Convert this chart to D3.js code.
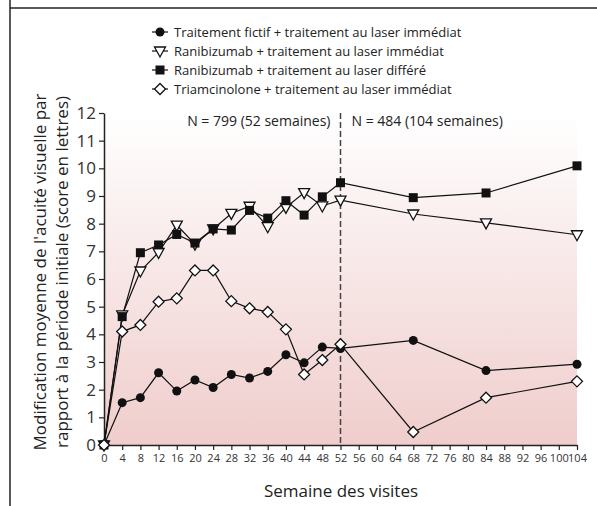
<!DOCTYPE html>
<html lang="fr">
<head>
    <meta charset="UTF-8">
    <title>Acuité visuelle</title>
    <script type="text/javascript" src="https://d3js.org/d3.v7.min.js"></script>
    <style>
        body { margin: 0; background: #fff; }
        svg { display: block; font-family: "Open Sans", sans-serif; }
    </style>
</head>
<body>
    <svg width="597" height="506"></svg>
    <script>
        // semaines de visite
        var weeks = [0, 4, 8, 12, 16, 20, 24, 28, 32, 36, 40, 44, 48, 52, 68, 84, 104];

        var fictif = [0, 1.53, 1.71, 2.61, 1.95, 2.35, 2.08, 2.55, 2.42, 2.66, 3.26, 2.97, 3.54, 3.49, 3.78, 2.69, 2.92];
        var raniImmediat = [0, 4.70, 6.29, 6.96, 7.95, 7.26, 7.81, 8.37, 8.63, 7.89, 8.59, 9.12, 8.64, 8.85, 8.35, 8.03, 7.60];
        var raniDiffere = [0, 4.64, 6.95, 7.23, 7.61, 7.30, 7.81, 7.77, 8.48, 8.20, 8.83, 8.31, 8.97, 9.48, 8.94, 9.11, 10.09];
        var triam = [0, 4.10, 4.34, 5.18, 5.30, 6.31, 6.31, 5.20, 4.94, 4.81, 4.18, 2.55, 3.07, 3.64, 0.47, 1.71, 2.30];

        var seriesNames = [
            "Traitement fictif + traitement au laser immédiat",
            "Ranibizumab + traitement au laser immédiat",
            "Ranibizumab + traitement au laser différé",
            "Triamcinolone + traitement au laser immédiat"
        ];
        var seriesValues = [fictif, raniImmediat, raniDiffere, triam];
        var markerTypes = ["circle", "triangle", "square", "diamond"];

        var xTicks = d3.range(0, 105, 4);
        var yTicks = d3.range(0, 13, 1);

        var svg = d3.select("svg");

        // cadre
        svg.append("line").attr("x1", 10).attr("x2", 10).attr("y1", 0).attr("y2", 506)
            .attr("stroke", "#222").attr("stroke-width", 1.5);
        svg.append("line").attr("x1", 10).attr("x2", 597).attr("y1", 8).attr("y2", 8)
            .attr("stroke", "#222").attr("stroke-width", 1.5);

        var x = d3.scaleLinear().domain([0, 104]).range([104, 577]);
        var y = d3.scaleLinear().domain([0, 12]).range([445, 113]);

        // fond dégradé
        var defs = svg.append("defs");
        var grad = defs.append("linearGradient").attr("id", "bg")
            .attr("x1", 0).attr("x2", 0).attr("y1", 0).attr("y2", 1);
        grad.append("stop").attr("offset", "0%").attr("stop-color", "#ffffff");
        grad.append("stop").attr("offset", "100%").attr("stop-color", "#efcdcc");

        svg.append("rect")
            .attr("x", x(0)).attr("y", y(12))
            .attr("width", x(104) - x(0)).attr("height", y(0) - y(12))
            .attr("fill", "url(#bg)");

        // ligne pointillée à 52 semaines
        svg.append("line")
            .attr("x1", x(52)).attr("x2", x(52))
            .attr("y1", y(12)).attr("y2", y(0))
            .attr("stroke", "#444").attr("stroke-width", 1.5)
            .attr("stroke-dasharray", "6,3");

        svg.append("text").attr("x", x(52) - 10).attr("y", 126)
            .attr("text-anchor", "end").attr("font-size", 14).attr("fill", "#222")
            .text("N = 799 (52 semaines)");
        svg.append("text").attr("x", x(52) + 11).attr("y", 126)
            .attr("font-size", 14).attr("fill", "#222")
            .text("N = 484 (104 semaines)");

        // axes
        var xAxis = svg.append("g")
            .attr("transform", "translate(0," + y(0) + ")")
            .call(d3.axisBottom(x).tickValues(xTicks).tickSize(5).tickSizeOuter(0).tickPadding(4));
        xAxis.selectAll("text").attr("font-size", 11).attr("fill", "#333")
            .style("font-family", "'Open Sans', sans-serif");

        var yAxis = svg.append("g")
            .attr("transform", "translate(" + x(0) + ",0)")
            .call(d3.axisLeft(y).tickValues(yTicks).tickSize(5).tickSizeOuter(0).tickPadding(3));
        yAxis.selectAll("text").attr("font-size", 17).attr("fill", "#333")
            .style("font-family", "'Open Sans', sans-serif");

        svg.selectAll(".domain").attr("stroke", "#222").attr("stroke-width", 1.5);
        svg.selectAll(".tick line").attr("stroke", "#222").attr("stroke-width", 1.2);

        // titres des axes
        svg.append("text").attr("x", 341).attr("y", 497)
            .attr("text-anchor", "middle").attr("font-size", 17).attr("fill", "#222")
            .text("Semaine des visites");

        svg.append("text")
            .attr("transform", "translate(46,272) rotate(-90)")
            .attr("text-anchor", "middle").attr("font-size", 17).attr("fill", "#222")
            .text("Modification moyenne de l'acuité visuelle par");
        svg.append("text")
            .attr("transform", "translate(68,272) rotate(-90)")
            .attr("text-anchor", "middle").attr("font-size", 17).attr("fill", "#222")
            .text("rapport à la période initiale (score en lettres)");

        // symboles
        function drawMarker(g, type, cx, cy) {
            if (type === "circle") {
                g.append("circle").attr("cx", cx).attr("cy", cy).attr("r", 4.5)
                    .attr("fill", "#111");
            } else if (type === "square") {
                g.append("rect").attr("x", cx - 4.5).attr("y", cy - 4.5)
                    .attr("width", 9).attr("height", 9).attr("fill", "#111");
            } else if (type === "triangle") {
                g.append("path")
                    .attr("d", "M" + (cx - 5.5) + "," + (cy - 4) + "L" + (cx + 5.5) + "," + (cy - 4) + "L" + cx + "," + (cy + 6) + "Z")
                    .attr("fill", "#fff").attr("stroke", "#111").attr("stroke-width", 1.3);
            } else {
                g.append("path")
                    .attr("d", "M" + cx + "," + (cy - 5.5) + "L" + (cx + 5.5) + "," + cy + "L" + cx + "," + (cy + 5.5) + "L" + (cx - 5.5) + "," + cy + "Z")
                    .attr("fill", "#fff").attr("stroke", "#111").attr("stroke-width", 1.3);
            }
        }

        var line = d3.line()
            .x(function (d) { return x(d[0]); })
            .y(function (d) { return y(d[1]); });

        seriesValues.forEach(function (vals, i) {
            var pts = weeks.map(function (w, j) { return [w, vals[j]]; });
            svg.append("path")
                .datum(pts)
                .attr("d", line)
                .attr("fill", "none")
                .attr("stroke", "#111")
                .attr("stroke-width", 1.2);
        });

        // marqueurs dessinés après toutes les lignes
        seriesValues.forEach(function (vals, i) {
            var g = svg.append("g");
            weeks.forEach(function (w, j) {
                drawMarker(g, markerTypes[i], x(w), y(vals[j]));
            });
        });

        // légende
        var legendY = [32, 51, 70, 89];
        seriesNames.forEach(function (name, i) {
            var g = svg.append("g");
            g.append("line").attr("x1", 152).attr("x2", 168)
                .attr("y1", legendY[i]).attr("y2", legendY[i])
                .attr("stroke", "#111").attr("stroke-width", 1.2);
            drawMarker(g, markerTypes[i], 160, legendY[i]);
            g.append("text").attr("x", 174).attr("y", legendY[i] + 4.5)
                .attr("font-size", 13).attr("fill", "#222")
                .text(name);
        });
    </script>
</body>
</html>
